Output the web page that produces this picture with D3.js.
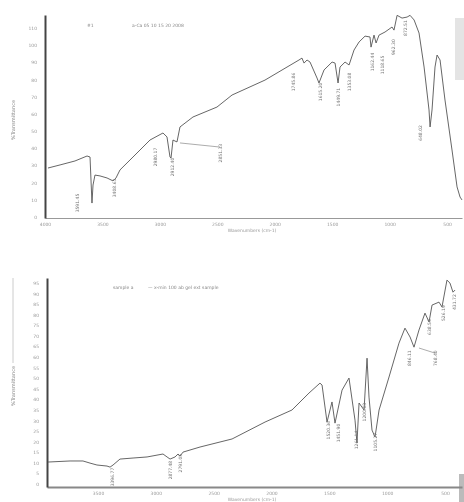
<!DOCTYPE html>
<html>
<head>
<meta charset="utf-8">
<script src="https://cdn.jsdelivr.net/npm/d3@7"></script>
<style>
  html, body { margin: 0; padding: 0; background: #fff; }
  svg { display: block; filter: blur(0.35px); }
  .tick text { font-family: "DejaVu Sans", sans-serif; }
</style>
</head>
<body>
<div id="chart"></div>
<script>
// FTIR spectra, two panels
// top panel
const topWn = [3974, 3869, 3739, 3634, 3608, 3591, 3582, 3565, 3521, 3460, 3408, 3382, 3347, 3234,
  3086, 2973, 2938, 2912, 2903, 2886, 2868, 2851, 2825, 2712, 2503, 2372, 2085, 1789, 1763, 1745,
  1719, 1693, 1632, 1615, 1571, 1501, 1475, 1449, 1432, 1388, 1353, 1310, 1266, 1214, 1171, 1162,
  1136, 1118, 1092, 1040, 979, 962, 935, 892, 848, 822, 787, 744, 700, 657, 648, 631, 605, 587,
  561, 518, 457, 413, 387, 370];
const topT = [28.5, 30.3, 32.6, 35.5, 34.9, 8.1, 18.6, 24.4, 23.9, 22.7, 21.0, 22.7, 27.4, 34.9,
  44.8, 48.9, 46.6, 34.9, 34.3, 44.8, 44.2, 43.7, 52.4, 58.2, 64.0, 71.0, 79.7, 91.4, 92.5, 89.6,
  91.4, 90.2, 80.9, 78.0, 85.6, 90.2, 89.6, 78.0, 87.3, 90.2, 88.5, 97.2, 101.9, 105.3, 104.8, 98.9,
  105.9, 101.3, 105.9, 107.7, 110.6, 108.8, 117.4, 115.8, 116.4, 117.4, 114.7, 107.1, 87.3, 62.3,
  52.4, 62.3, 87.3, 94.3, 91.4, 68.1, 39.0, 17.5, 11.6, 9.9];

// peak labels (text, label position in wavenumber / %T)
const topPeakText = ['3591.45', '3408.63', '2980.17', '2912.40', '2851.33', '1745.86', '1615.20',
  '1449.71', '1353.08', '1162.44', '1118.65', '962.30', '872.51', '648.02'];
const topPeakWn = [3721, 3399, 3042, 2894, 2476, 1841, 1606, 1449, 1353, 1153, 1066, 962, 866, 727];
const topPeakT = [8.1, 16.9, 34.9, 29.1, 37.2, 78.6, 72.8, 69.8, 78.6, 90.2, 88.5, 98.9, 110.0, 48.9];

// bottom panel
const botWn = [3932, 3742, 3630, 3569, 3509, 3422, 3396, 3370, 3310, 3197, 3076, 2938, 2903, 2877,
  2834, 2808, 2791, 2765, 2618, 2341, 2056, 1823, 1676, 1581, 1563, 1520, 1477, 1451, 1390, 1330,
  1278, 1261, 1243, 1200, 1174, 1157, 1131, 1105, 1070, 984, 898, 846, 802, 768, 725, 673, 638,
  612, 552, 526, 483, 457, 431, 413];
const botT = [10.4, 10.9, 10.9, 9.9, 9.0, 8.5, 8.0, 9.0, 11.8, 12.3, 12.8, 14.2, 12.8, 11.8,
  12.8, 14.2, 13.2, 15.1, 17.5, 21.3, 29.3, 35.0, 43.0, 47.7, 46.8, 29.3, 38.8, 28.8, 44.4, 50.1,
  30.2, 19.4, 38.3, 35.0, 59.5, 41.1, 25.5, 22.2, 35.0, 50.6, 66.6, 73.7, 69.5, 64.7, 72.8, 80.8,
  76.6, 84.6, 86.0, 83.7, 96.4, 95.0, 90.7, 91.7];

const botPeakText = ['3396.77', '2877.48', '2791.05', '1520.36', '1451.90', '1261.14', '1200.63',
  '1105.27', '846.11', '638.54', '768.40', '526.19', '431.72'];
const botPeakWn = [3379, 2869, 2791, 1511, 1425, 1261, 1200, 1105, 811, 638, 578, 517, 422];
const botPeakT = [3.3, 6.6, 9.9, 25.5, 24.1, 20.8, 34.0, 19.8, 59.5, 74.2, 59.5, 80.8, 86.0];

// axis tick labels
const topXTicks = [4000, 3500, 3000, 2500, 2000, 1500, 1000, 500];
const topYTicks = [0, 10, 20, 30, 40, 50, 60, 70, 80, 90, 100, 110];
const botXTicks = [3500, 3000, 2500, 2000, 1500, 1000, 500];
const botYTicks = [0, 5, 10, 15, 20, 25, 30, 35, 40, 45, 50, 55, 60, 65, 70, 75, 80, 85, 90, 95];

const W = 464, H = 502;
const svg = d3.select('#chart').append('svg').attr('width', W).attr('height', H);

// a few faint scan marks
svg.append('rect').attr('x', 455).attr('y', 18).attr('width', 9).attr('height', 62).attr('fill', '#e4e4e4');
svg.append('rect').attr('x', 459).attr('y', 474).attr('width', 5).attr('height', 28).attr('fill', '#bbb');
svg.append('line').attr('x1', 13).attr('x2', 13).attr('y1', 278).attr('y2', 363)
  .attr('stroke', '#ccc').attr('stroke-width', 1);

function panel(o) {
  const x = d3.scaleLinear().domain(o.xDom).range(o.xRange);
  const y = d3.scaleLinear().domain(o.yDom).range(o.yRange);
  const g = svg.append('g');

  // x axis
  const xa = g.append('g').attr('transform', `translate(0,${o.yRange[0]})`)
    .call(d3.axisBottom(x).tickValues(o.xTicks).tickSize(0).tickPadding(5).tickFormat(d3.format('d')));
  xa.select('.domain').attr('stroke', o.xAxisColor).attr('stroke-width', o.xAxisWidth);
  xa.selectAll('text').attr('font-size', 4.5).attr('fill', '#999');

  // y axis
  const ya = g.append('g').attr('transform', `translate(${o.xRange[0]},0)`)
    .call(d3.axisLeft(y).tickValues(o.yTicks).tickSize(0).tickPadding(8).tickFormat(d3.format('d')));
  ya.select('.domain').attr('stroke', '#444').attr('stroke-width', 2);
  ya.selectAll('text').attr('font-size', 4.5).attr('fill', '#999');

  // axis titles
  g.append('text')
    .attr('transform', `translate(15,${o.yLabelY}) rotate(-90)`)
    .attr('text-anchor', 'middle').attr('font-size', 5).attr('fill', '#888')
    .attr('font-family', 'DejaVu Sans, sans-serif')
    .text('%Transmittance');
  g.append('text')
    .attr('x', o.xLabelX).attr('y', o.yRange[0] + 13.5)
    .attr('text-anchor', 'middle').attr('font-size', 4.5).attr('fill', '#999')
    .attr('font-family', 'DejaVu Sans, sans-serif')
    .text('Wavenumbers (cm-1)');

  // title line
  o.titles.forEach(t => {
    g.append('text').attr('x', t.x).attr('y', t.y)
      .attr('font-size', 4.5).attr('fill', '#888')
      .attr('font-family', 'DejaVu Sans, sans-serif')
      .text(t.text);
  });

  // spectrum
  const pts = o.wn.map((w, i) => [w, o.t[i]]);
  g.append('path').datum(pts)
    .attr('fill', 'none').attr('stroke', '#555').attr('stroke-width', 0.9)
    .attr('d', d3.line().x(d => x(d[0])).y(d => y(d[1])));

  // leader lines
  (o.leaders || []).forEach(l => {
    g.append('line')
      .attr('x1', x(l[0])).attr('y1', y(l[1])).attr('x2', x(l[2])).attr('y2', y(l[3]))
      .attr('stroke', '#888').attr('stroke-width', 0.7);
  });

  // peak labels, vertical
  o.peakText.forEach((s, i) => {
    g.append('text')
      .attr('transform', `translate(${x(o.peakWn[i]) + 1.5},${y(o.peakT[i])}) rotate(-90)`)
      .attr('text-anchor', 'middle').attr('font-size', 4.5).attr('fill', '#777')
      .attr('font-family', 'DejaVu Sans, sans-serif')
      .text(s);
  });
}

panel({
  xDom: [4000, 370], xRange: [45, 462],
  yDom: [-0.6, 117.6], yRange: [218, 15],
  xTicks: topXTicks, yTicks: topYTicks,
  xAxisColor: '#999', xAxisWidth: 1.2,
  yLabelY: 120, xLabelX: 252,
  titles: [{ x: 87, y: 27, text: '#1' }, { x: 132, y: 27, text: 'a-Ca  05 10 15 20 2008' }],
  wn: topWn, t: topT,
  peakText: topPeakText, peakWn: topPeakWn, peakT: topPeakT,
  leaders: [[2825, 43.1, 2476, 40.7]]
});

panel({
  xDom: [3941, 353], xRange: [47, 462],
  yDom: [-1.4, 97.4], yRange: [487, 278],
  xTicks: botXTicks, yTicks: botYTicks,
  xAxisColor: '#888', xAxisWidth: 2,
  yLabelY: 386, xLabelX: 252,
  titles: [{ x: 113, y: 289, text: 'sample  a' }, { x: 148, y: 289, text: '— x-min  100  ab  gel  ext  sample' }],
  wn: botWn, t: botT,
  peakText: botPeakText, peakWn: botPeakWn, peakT: botPeakT,
  leaders: [[725, 64.3, 586, 61.9]]
});
</script>
</body>
</html>
